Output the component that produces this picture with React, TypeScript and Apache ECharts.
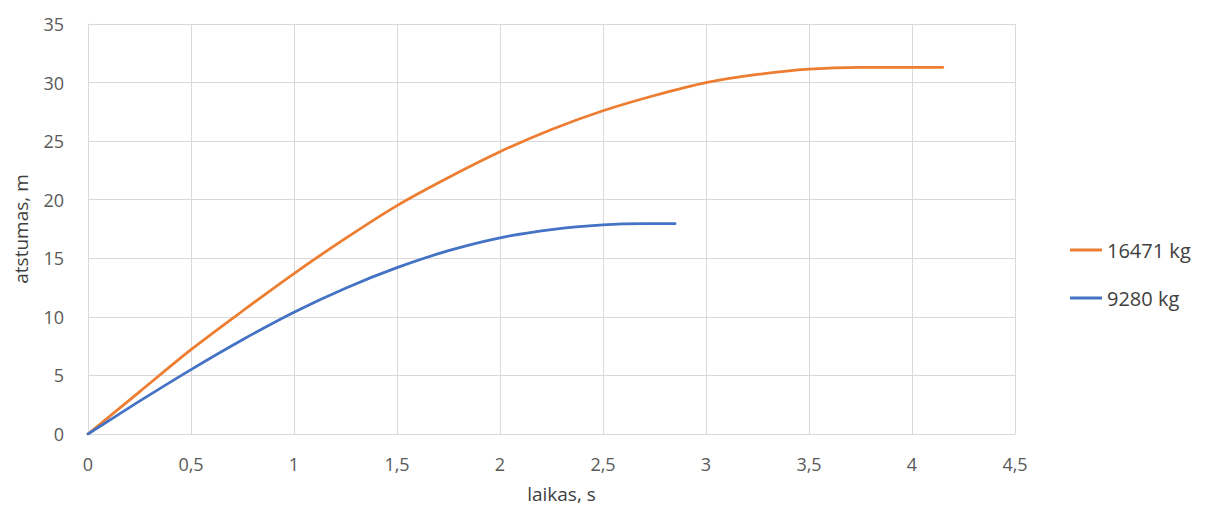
import React, { useEffect, useRef } from "react";
import * as echarts from "echarts";

// Braking distance (m) over time (s) for two vehicle masses
const heavyTime = [0, 0.25, 0.5, 0.75, 1, 1.25, 1.5, 1.75, 2, 2.25, 2.5, 2.75, 3, 3.25, 3.5, 3.75, 4.15];
const heavyDist = [0, 3.6, 7.2, 10.5, 13.7, 16.7, 19.5, 21.9, 24.1, 26.0, 27.6, 28.9, 30.0, 30.7, 31.15, 31.3, 31.3];

const lightTime = [0, 0.25, 0.5, 0.75, 1, 1.25, 1.5, 1.75, 2, 2.25, 2.5, 2.7, 2.85];
const lightDist = [0, 2.8, 5.5, 8.05, 10.4, 12.45, 14.2, 15.65, 16.75, 17.45, 17.85, 17.95, 17.95];

const heavyName = "16471 kg";
const lightName = "9280 kg";

const FONT = "'Open Sans', 'Noto Sans', sans-serif";

const pairs = (xs: number[], ys: number[]) => xs.map((x, i) => [x, ys[i]]);
const comma = (v: number) => String(v).replace(".", ",");

export default function App() {
  const ref = useRef<HTMLDivElement>(null);

  useEffect(() => {
    if (!ref.current) return;
    const chart = echarts.init(ref.current, undefined, { renderer: "svg" });
    chart.setOption({
      animation: false,
      backgroundColor: "#ffffff",
      grid: { left: 88, right: 214, top: 24, bottom: 82, containLabel: false, outerBoundsMode: "none" },
      legend: {
        orient: "vertical",
        left: 1070,
        top: 237,
        padding: 0,
        icon: "rect",
        itemWidth: 32,
        itemHeight: 3,
        itemGap: 22,
        textStyle: { color: "#404040", fontSize: 20, fontFamily: FONT, lineHeight: 26 },
        data: [heavyName, lightName],
      },
      xAxis: {
        type: "value",
        min: 0,
        max: 4.5,
        interval: 0.5,
        name: "laikas, s",
        nameLocation: "middle",
        nameGap: 50,
        nameTextStyle: { color: "#404040", fontSize: 19, fontFamily: FONT, padding: [0, 0, 0, 20] },
        axisLine: { show: true, lineStyle: { color: "#d9d9d9", width: 1 } },
        axisTick: { show: false },
        axisLabel: { color: "#595959", fontSize: 18, fontFamily: FONT, margin: 21, formatter: comma },
        splitLine: { show: true, lineStyle: { color: "#d9d9d9", width: 1 } },
      },
      yAxis: {
        type: "value",
        min: 0,
        max: 35,
        interval: 5,
        name: "atstumas, m",
        nameLocation: "middle",
        nameGap: 58,
        nameRotate: 90,
        nameTextStyle: { color: "#404040", fontSize: 19, fontFamily: FONT },
        axisLine: { show: true, lineStyle: { color: "#d9d9d9", width: 1 } },
        axisTick: { show: false },
        axisLabel: { color: "#595959", fontSize: 18, fontFamily: FONT, margin: 24, formatter: comma },
        splitLine: { show: true, lineStyle: { color: "#d9d9d9", width: 1 } },
      },
      series: [
        {
          name: heavyName,
          type: "line",
          data: pairs(heavyTime, heavyDist),
          smooth: 0.3,
          showSymbol: false,
          symbol: "none",
          lineStyle: { color: "#ED7D31", width: 2.75, cap: "round" },
          itemStyle: { color: "#ED7D31" },
        },
        {
          name: lightName,
          type: "line",
          data: pairs(lightTime, lightDist),
          smooth: 0.3,
          showSymbol: false,
          symbol: "none",
          lineStyle: { color: "#4472C4", width: 2.75, cap: "round" },
          itemStyle: { color: "#4472C4" },
        },
      ],
    });
    return () => chart.dispose();
  }, []);

  return <div ref={ref} style={{ width: 1229, height: 516, position: "absolute", left: 0, top: 0 }} />;
}
